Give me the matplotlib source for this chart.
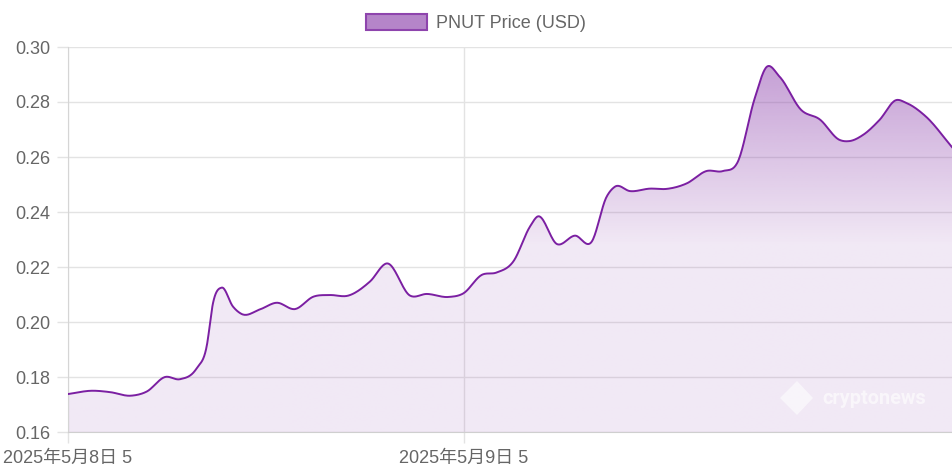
import numpy as np
import matplotlib
matplotlib.use("Agg")
import matplotlib.pyplot as plt
from matplotlib.patches import Patch, Polygon

plt.rcParams['font.family'] = ['Liberation Sans', 'Noto Sans CJK SC', 'DejaVu Sans']

# hours since 2025-05-08 05:00, price in USD
hours = [0.0, 1.44, 2.55, 3.8, 4.77, 5.88, 6.79, 7.8, 8.4, 8.79, 9.32, 10.0,
         10.53, 11.64, 12.65, 13.76, 14.87, 15.88, 16.99, 18.3, 19.35, 20.73,
         21.74, 23.05, 23.96, 25.07, 25.98, 26.99, 28.0, 28.44, 29.65, 30.73,
         31.74, 32.65, 33.15, 34.06, 35.27, 36.28, 37.5, 38.7, 39.7, 40.6,
         41.62, 42.32, 43.13, 44.44, 45.56, 46.77, 47.38, 48.18, 49.19, 50.2,
         50.8, 52.0, 53.58]
price = [0.1738, 0.1750, 0.1745, 0.1732, 0.1747, 0.1800, 0.1792, 0.1832, 0.1910,
         0.2069, 0.2125, 0.2056, 0.2029, 0.2046, 0.2070, 0.2047, 0.2092, 0.2098,
         0.2096, 0.2147, 0.2213, 0.2096, 0.2102, 0.2091, 0.2104, 0.2171, 0.2180,
         0.2220, 0.2347, 0.2383, 0.2283, 0.2314, 0.2292, 0.2456, 0.2492, 0.2476,
         0.2485, 0.2484, 0.2504, 0.2549, 0.2549, 0.2583, 0.2813, 0.2926, 0.2892,
         0.2771, 0.2737, 0.2662, 0.2658, 0.2680, 0.2735, 0.2807, 0.2797, 0.2747,
         0.2636]
tick_hours = [0, 24]
tick_labels = ["2025年5月8日 5", "2025年5月9日 5"]
y_ticks = [0.16, 0.18, 0.20, 0.22, 0.24, 0.26, 0.28, 0.30]

PURPLE = "#8e44ad"
LINE = "#7b1fa2"
TEXT = "#666666"
GRID = "#e3e3e3"
FS = 13


def smooth(x, y, n=20):
    # cubic hermite through the points, like the chart's curved line
    x = np.asarray(x, float)
    y = np.asarray(y, float)
    m = np.gradient(y, x)
    xs, ys = [], []
    for i in range(len(x) - 1):
        h = x[i + 1] - x[i]
        t = np.linspace(0, 1, n, endpoint=False)
        h00 = 2 * t**3 - 3 * t**2 + 1
        h10 = t**3 - 2 * t**2 + t
        h01 = -2 * t**3 + 3 * t**2
        h11 = t**3 - t**2
        xs.append(x[i] + t * h)
        ys.append(h00 * y[i] + h10 * h * m[i] + h01 * y[i + 1] + h11 * h * m[i + 1])
    xs.append([x[-1]])
    ys.append([y[-1]])
    return np.concatenate(xs), np.concatenate(ys)


fig = plt.figure(figsize=(9.53, 4.75), dpi=100)
ax = fig.add_axes([68 / 953, 43 / 475, 884 / 953, 385 / 475])

xs, ys = smooth(hours, price)
ymin, ymax = 0.16, 0.30
ax.set_xlim(hours[0], hours[-1])
ax.set_ylim(ymin, ymax)

# gradient fill under the line
yy = np.linspace(ymax, ymin, 400)
alpha = np.where(yy > 0.228, 0.12 + (yy - 0.228) / (ymax - 0.228) * 0.43, 0.12)
rgb = matplotlib.colors.to_rgb(PURPLE)
img = np.zeros((len(yy), 2, 4))
img[..., :3] = rgb
img[..., 3] = alpha[:, None]
fill = ax.fill_between(xs, ys, ymin, color="none", lw=0)
im = ax.imshow(img, extent=[hours[0], hours[-1], ymin, ymax], aspect="auto",
               origin="upper", zorder=1, interpolation="bilinear")
clip = fill.get_paths()[0]
im.set_clip_path(clip, transform=ax.transData)

ax.plot(xs, ys, color=LINE, lw=1.4, zorder=3)

ax.set_yticks(y_ticks)
ax.set_yticklabels([f"{v:.2f}" for v in y_ticks])
ax.set_xticks(tick_hours)
ax.set_xticklabels(tick_labels)
ax.tick_params(axis="both", colors=GRID, labelcolor=TEXT, labelsize=FS,
               length=8, width=1)
ax.tick_params(axis="y", pad=5)
ax.tick_params(axis="x", pad=5)
ax.grid(True, color=GRID, lw=1, zorder=0)
ax.set_axisbelow(True)
for s in ["top", "right"]:
    ax.spines[s].set_visible(False)
ax.spines["left"].set_color("#d5d5d5")
ax.spines["bottom"].set_color("#cfcfcf")

# legend
handle = Patch(facecolor=(*rgb, 0.65), edgecolor=PURPLE, lw=1.5)
fig.legend([handle], ["PNUT Price (USD)"], loc="center", bbox_to_anchor=(476 / 953, 1 - 23 / 475),
           frameon=False, fontsize=FS, labelcolor=TEXT, handlelength=3.4,
           handleheight=1.05, handletextpad=0.5)

# watermark
wm = dict(facecolor="white", edgecolor="none", alpha=0.55, zorder=4)
logo = [(780, 398), (797, 381), (813, 398), (797, 415)]
fig.patches.append(Polygon([(px / 953, 1 - py / 475) for px, py in logo],
                           closed=True, transform=fig.transFigure, **wm))
fig.text(822 / 953, 1 - 399 / 475, "cryptonews", color="white", alpha=0.6,
         fontsize=14.3, fontweight="bold", family="Roboto", va="center", ha="left")

fig.savefig("out.png", dpi=100)
